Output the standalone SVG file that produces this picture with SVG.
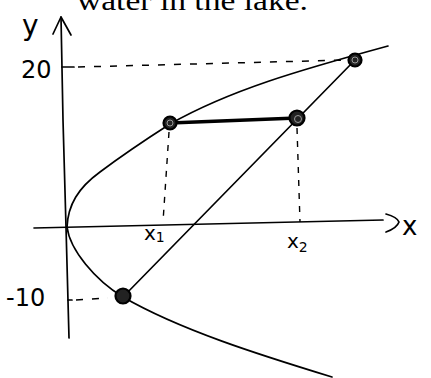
<svg xmlns="http://www.w3.org/2000/svg" width="431" height="378" viewBox="0 0 431 378">
<style>
.ln{fill:none;stroke:#000;stroke-width:1.7;stroke-linecap:round;stroke-linejoin:round}
.dash{fill:none;stroke:#000;stroke-width:1.5;stroke-dasharray:7 9}
.vdash{fill:none;stroke:#000;stroke-width:1.4;stroke-dasharray:6 7}
.hand{font-family:"DejaVu Sans","Liberation Sans",sans-serif;fill:#000}
.pt{fill:#222;stroke:#000;stroke-width:2.2}
.pti{fill:none;stroke:#999;stroke-width:1}
</style>
<rect width="431" height="378" fill="#fff"/>
<text x="77" y="10" font-family="Liberation Serif,serif" font-size="28" textLength="231" lengthAdjust="spacingAndGlyphs">water in the lake.</text>
<g id="axes">
<path class="ln" d="M61,17 L63,120 L66,227 L69,338"/>
<path class="ln" d="M53,34 L61,17 L71,35"/>
<path class="ln" d="M34,228 L383,220"/>
<path class="ln" d="M386,214 Q397,217 399,222 Q397,228 386,232"/>
<path class="ln" d="M62,67 L74,67"/>
<path class="ln" d="M68,300 L72,300"/>
</g>
<g id="curve">
<path class="ln" d="M67,227 C68,205 78,188 100,172 C120,157 145,140 170,124 C230,90 300,70 388,46"/>
<path class="ln" d="M67,227 C70,250 95,280 123,297 C180,330 260,355 332,377"/>
</g>
<g id="connectors">
<path class="dash" d="M78,67 L348,60"/>
<path class="dash" d="M76,300 L108,298"/>
<path class="vdash" d="M169,132 L163,222"/>
<path class="vdash" d="M297,128 L300,222"/>
<path class="ln" d="M123,297 L355,60"/>
<path fill="none" stroke="#000" stroke-width="3.5" stroke-linecap="round" d="M170,123 L297,118"/>
</g>
<g id="p1"><circle class="pt" cx="170" cy="123" r="6.5"/><circle class="pti" cx="170" cy="123" r="3"/></g>
<g id="p2"><circle class="pt" cx="297" cy="118" r="7.5"/><circle class="pti" cx="298" cy="119" r="3.5"/></g>
<g id="p3"><circle class="pt" cx="355" cy="60" r="6.5"/><circle class="pti" cx="355" cy="60" r="3"/></g>
<g id="p4"><circle class="pt" cx="123" cy="296" r="7.5"/></g>
<g id="labels">
<text class="hand" x="22" y="35" font-size="28">y</text>
<text class="hand" x="21" y="78" font-size="24">20</text>
<text class="hand" x="6" y="306" font-size="24">-10</text>
<text class="hand" x="402" y="235" font-size="26">x</text>
<text class="hand" x="144" y="240" font-size="20">x<tspan font-size="14" dy="2">1</tspan></text>
<text class="hand" x="287" y="248" font-size="20">x<tspan font-size="14" dy="4">2</tspan></text>
</g>
</svg>
